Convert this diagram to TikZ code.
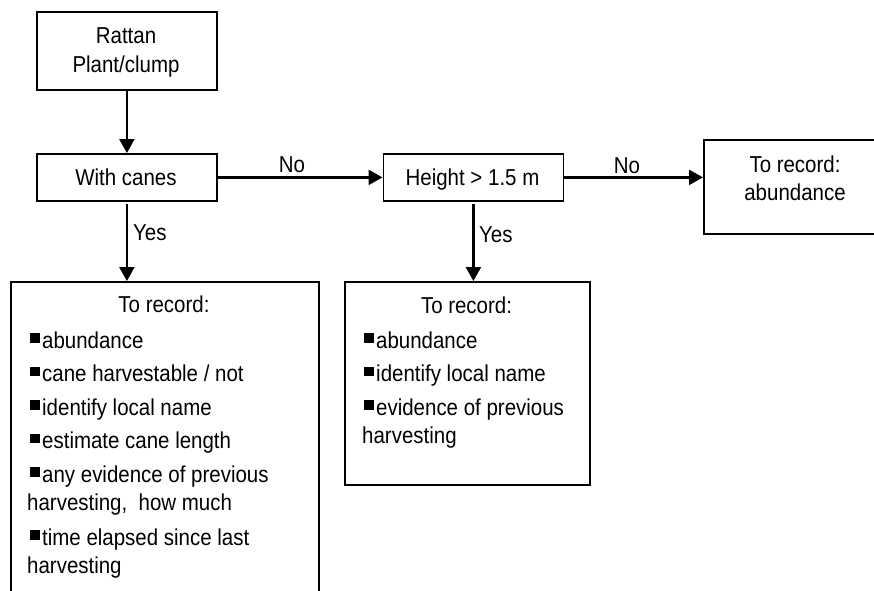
\documentclass[tikz,border=0pt]{standalone}
\usepackage{fontspec}
\setmainfont{Liberation Sans}[FakeStretch=0.89]
\usetikzlibrary{arrows.meta}
\newcommand\blt{\rule[5.5pt]{9.5pt}{9.5pt}\hspace{2.5pt}}
\begin{document}
\begin{tikzpicture}[x=1pt,y=-1pt,
  every node/.style={font=\fontsize{23}{26}\selectfont, inner sep=0pt},
  box/.style={draw, line width=1.8pt, anchor=north west},
  arr/.style={line width=2.2pt, -{Triangle[length=14pt,width=15pt]}},
  txt/.style={anchor=base},
  txtl/.style={anchor=base west}]
\useasboundingbox (0,0) rectangle (874,590);
\clip (0,0) rectangle (874,590);
% boxes
\node[box, minimum width=180pt, minimum height=78pt] (rattan) at (36,11) {};
\node[box, minimum width=180pt, minimum height=47pt] (canes) at (36,153) {};
\node[box, minimum width=180pt, minimum height=47pt] (height) at (382.5,153) {};
\node[box, minimum width=184pt, minimum height=94pt] (right) at (703,139) {};
\node[box, minimum width=308pt, minimum height=330pt] (left) at (10,281) {};
\node[box, minimum width=245pt, minimum height=203pt] (mid) at (344,281) {};
% box texts
\node[txt] (t1) at (126,43) {Rattan};
\node[txt] (t2) at (126,72) {Plant/clump};
\node[txt] (t3) at (126,185) {With canes};
\node[txt] (t4) at (472.5,185) {Height > 1.5 m};
\node[txt] (t5) at (795,172) {To record:};
\node[txt] (t6) at (795,200) {abundance};
% left list
\node[txt] (l0) at (164,312.5) {To record:};
\node[txtl] (l1) at (30,348) {\blt abundance};
\node[txtl] (l2) at (30,381.5) {\blt cane harvestable / not};
\node[txtl] (l3) at (30,415) {\blt identify local name};
\node[txtl] (l4) at (30,448.5) {\blt estimate cane length};
\node[txtl] (l5) at (30,482) {\blt any evidence of previous};
\node[txtl] (l6) at (27,510.5) {harvesting,\ \ how much};
\node[txtl] (l7) at (30,545) {\blt time elapsed since last};
\node[txtl] (l8) at (27,573.5) {harvesting};
% middle list
\node[txt] (m0) at (466.5,313) {To record:};
\node[txtl] (m1) at (364,348) {\blt abundance};
\node[txtl] (m2) at (364,381.5) {\blt identify local name};
\node[txtl] (m3) at (364,415) {\blt evidence of previous};
\node[txtl] (m4) at (362,443.5) {harvesting};
% connectors
\draw[arr] (rattan.south) -- (canes.north);
\draw[arr] (canes.east) -- (height.west);
\draw[arr] (height.east) -- (height.east -| right.west);
\draw[arr] ([yshift=-2pt]canes.south) -- (canes.south |- left.north);
\draw[arr] ([yshift=-2pt]height.south) -- (height.south |- mid.north);
% labels
\node[txt] (no1) at (292,172) {No};
\node[txt] (no2) at (627,173) {No};
\node[txtl] (yes1) at (133,240) {Yes};
\node[txtl] (yes2) at (479,242) {Yes};
\end{tikzpicture}
\end{document}
